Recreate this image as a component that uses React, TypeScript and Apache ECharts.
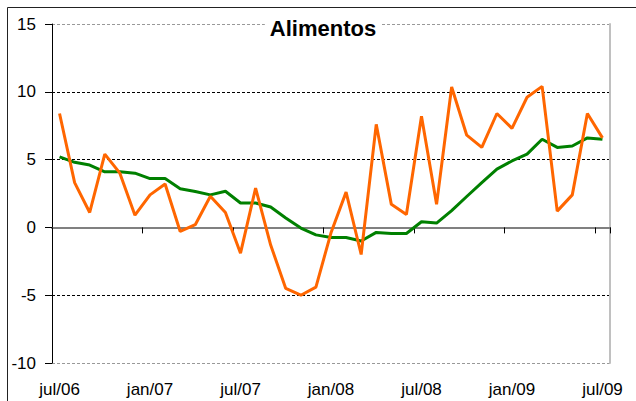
import React, { useEffect, useRef } from "react";
import * as echarts from "echarts";

const months = [
  "jul/06", "ago/06", "set/06", "out/06", "nov/06", "dez/06",
  "jan/07", "fev/07", "mar/07", "abr/07", "mai/07", "jun/07",
  "jul/07", "ago/07", "set/07", "out/07", "nov/07", "dez/07",
  "jan/08", "fev/08", "mar/08", "abr/08", "mai/08", "jun/08",
  "jul/08", "ago/08", "set/08", "out/08", "nov/08", "dez/08",
  "jan/09", "fev/09", "mar/09", "abr/09", "mai/09", "jun/09",
  "jul/09",
];

const variacaoMensal = [
  8.4, 3.3, 1.1, 5.4, 4.0, 0.9, 2.4, 3.2, -0.3, 0.2, 2.3, 1.1,
  -1.9, 2.9, -1.3, -4.5, -5.0, -4.4, -0.4, 2.6, -2.0, 7.6, 1.7, 0.95,
  8.2, 1.7, 10.35, 6.8, 5.9, 8.4, 7.3, 9.6, 10.4, 1.2, 2.4, 8.4, 6.6,
];

const tendencia = [
  5.2, 4.8, 4.6, 4.1, 4.1, 4.0, 3.6, 3.6, 2.85, 2.65, 2.4, 2.67,
  1.8, 1.8, 1.5, 0.7, -0.05, -0.55, -0.75, -0.75, -1.0, -0.37, -0.45, -0.45,
  0.42, 0.32, 1.24, 2.28, 3.3, 4.3, 4.9, 5.4, 6.5, 5.9, 6.0, 6.6, 6.5,
];

const yMin = -10;
const yMax = 15;
const yStep = 5;
const titleText = "Alimentos";

const FONT = '"Liberation Sans", Arial, sans-serif';

export default function App() {
  const ref = useRef<HTMLDivElement>(null);
  useEffect(() => {
    if (!ref.current) return;
    const chart = echarts.init(ref.current, null, { renderer: "svg" });
    chart.setOption({
      animation: false,
      backgroundColor: "#fff",
      grid: { left: 52, right: 26, top: 24, bottom: 38 },
      xAxis: [
        {
          type: "category",
          data: months,
          position: "bottom",
          boundaryGap: true,
          axisLine: { show: false, onZero: false },
          axisTick: { show: false },
          axisLabel: {
            interval: 5,
            fontSize: 17,
            color: "#000",
            fontFamily: FONT,
            margin: 18,
          },
          splitLine: { show: false },
        },
        {
          type: "category",
          data: months,
          position: "bottom",
          boundaryGap: true,
          axisLine: { show: true, onZero: true, lineStyle: { color: "#808080", width: 2 } },
          axisTick: { show: true, interval: 5, length: 6, lineStyle: { color: "#000", width: 1 } },
          axisLabel: { show: false },
          splitLine: { show: false },
        },
      ],
      yAxis: [
        {
          type: "value",
          min: yMin,
          max: yMax,
          interval: yStep,
          axisLine: { show: true, lineStyle: { color: "#000", width: 1 } },
          axisTick: { show: true, length: 7, lineStyle: { color: "#000" } },
          axisLabel: { fontSize: 17, color: "#000", fontFamily: FONT, margin: 16 },
          splitLine: {
            show: true,
            lineStyle: {
              type: [3, 2],
              width: 1,
              color: ["#999", "#000", "#888", "#000", "#000", "#999"],
            },
          },
        },
        {
          type: "value",
          position: "right",
          min: yMin,
          max: yMax,
          interval: yStep,
          axisLine: { show: true, lineStyle: { color: "#c0c0c0", width: 2 } },
          axisTick: { show: false },
          axisLabel: { show: false },
          splitLine: { show: false },
        },
      ],
      series: [
        {
          type: "line",
          data: tendencia,
          symbol: "none",
          lineStyle: { color: "#008000", width: 3 },
          itemStyle: { color: "#008000" },
          z: 3,
        },
        {
          type: "line",
          data: variacaoMensal,
          symbol: "none",
          lineStyle: { color: "#FF6600", width: 3 },
          itemStyle: { color: "#FF6600" },
          z: 4,
        },
      ],
      graphic: [
        {
          type: "rect",
          shape: { x: 7.5, y: 7.5, width: 660, height: 420 },
          style: { fill: "none", stroke: "#222", lineWidth: 1 },
          silent: true,
          z: 50,
        },
        {
          type: "text",
          x: 323,
          y: 28,
          z: 100,
          style: {
            text: titleText,
            font: `bold 22px ${FONT}`,
            fill: "#000",
            textAlign: "center",
            textVerticalAlign: "middle",
            backgroundColor: "#fff",
            padding: [2, 5],
          },
        },
      ],
    });
    return () => chart.dispose();
  }, []);
  return (
    <div
      ref={ref}
      style={{ position: "absolute", left: 0, top: 0, width: 636, height: 401 }}
    />
  );
}
